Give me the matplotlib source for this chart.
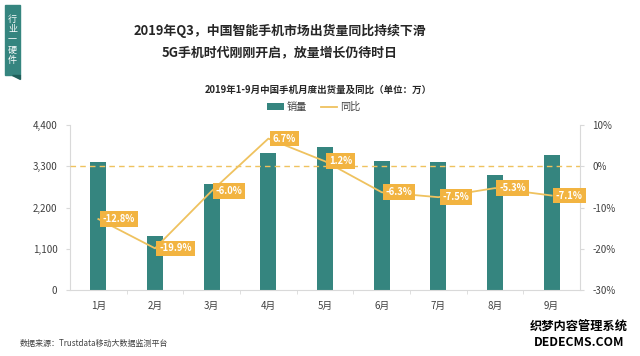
import matplotlib
matplotlib.use('Agg')
import matplotlib.pyplot as plt
from matplotlib.patches import Rectangle, Polygon

plt.rcParams['font.family'] = ['Noto Sans CJK SC', 'DejaVu Sans']

months = ['1月', '2月', '3月', '4月', '5月', '6月', '7月', '8月', '9月']
sales = [3405, 1440, 2830, 3645, 3820, 3430, 3415, 3070, 3610]
yoy = [-12.8, -19.9, -6.0, 6.7, 1.2, -6.3, -7.5, -5.3, -7.1]

left_ticks = [0, 1100, 2200, 3300, 4400]
right_ticks = [-30, -20, -10, 0, 10]

TEAL = '#35857f'
GOLD = '#efc25f'
LABEL_BG = '#f2b441'
GREY = '#d9d9d9'

fig = plt.figure(figsize=(6.4, 3.56), dpi=100)
fig.patch.set_facecolor('white')

# side tag
fig.patches.append(Rectangle((5 / 640, 1 - 75 / 356), 15 / 640, 70 / 356,
                             transform=fig.transFigure, color=TEAL))
fig.patches.append(Polygon([(12 / 640, 1 - 75 / 356), (20 / 640, 1 - 75 / 356),
                            (20 / 640, 1 - 79 / 356)],
                           transform=fig.transFigure, color='#1f5f5a'))
fig.text(12.5 / 640, 1 - 40 / 356, '行\n业\n一\n硬\n件', color='white',
         fontsize=6.5, ha='center', va='center', linespacing=1.15)

# titles
fig.text(280 / 640, 1 - 31 / 356, '2019年Q3，中国智能手机市场出货量同比持续下滑',
         ha='center', va='center', fontsize=9.3, fontweight='bold', color='#262626')
fig.text(280 / 640, 1 - 52 / 356, '5G手机时代刚刚开启，放量增长仍待时日',
         ha='center', va='center', fontsize=9.3, fontweight='bold', color='#262626')
fig.text(318 / 640, 1 - 90 / 356, '2019年1-9月中国手机月度出货量及同比（单位：万）',
         ha='center', va='center', fontsize=6.8, fontweight='bold', color='#262626')

ax = fig.add_axes([70 / 640, 1 - 290 / 356, 510 / 640, 165 / 356])
ax2 = ax.twinx()

x = list(range(len(months)))
bars = ax.bar(x, sales, width=0.28, color=TEAL, label='销量', zorder=2)
ax.set_xlim(-0.5, len(months) - 0.5)
ax.set_ylim(0, 4400)
ax.set_yticks(left_ticks)
ax.set_yticklabels([f'{v:,}' for v in left_ticks])
ax.set_xticks(x)
ax.set_xticklabels(months)
ax.set_xticks([i + 0.5 for i in x[:-1]], minor=True)
ax.tick_params(axis='x', which='major', length=0, pad=8, labelsize=7, colors='#404040')
ax.tick_params(axis='x', which='minor', length=3, color=GREY)
ax.tick_params(axis='y', length=3, color=GREY, labelsize=7, colors='#404040', pad=6)
for s in ['top', 'right']:
    ax.spines[s].set_visible(False)
ax.spines['left'].set_color(GREY)
ax.spines['bottom'].set_color(GREY)

line, = ax2.plot(x, yoy, color=GOLD, lw=1.3, label='同比', zorder=3)
ax2.axhline(0, color=GOLD, lw=1, ls=(0, (4, 3)), zorder=1)
ax2.set_ylim(-30, 10)
ax2.set_yticks(right_ticks)
ax2.set_yticklabels([f'{v}%' for v in right_ticks])
ax2.tick_params(axis='y', length=3, color=GREY, labelsize=7, colors='#404040', pad=6)
for s in ['top', 'left', 'bottom']:
    ax2.spines[s].set_visible(False)
ax2.spines['right'].set_color(GREY)

for xi, v in zip(x, yoy):
    ax2.annotate(f'{v:.1f}%', (xi, v), xytext=(3, 0), textcoords='offset points',
                 ha='left', va='center', fontsize=6.8, fontweight='bold', color='white',
                 bbox=dict(boxstyle='square,pad=0.3', fc=LABEL_BG, ec='none'), zorder=4)

fig.legend(handles=[bars, line], loc='center', bbox_to_anchor=(314 / 640, 1 - 107 / 356),
           ncol=2, frameon=False, fontsize=7.3, handlelength=1.6, handleheight=0.6,
           columnspacing=1.4, handletextpad=0.3, labelcolor='#404040')

fig.text(20 / 640, 1 - 343 / 356, '数据来源：Trustdata移动大数据监测平台',
         ha='left', va='center', fontsize=5.8, color='#404040')

# watermark
fig.text(579 / 640, 1 - 327 / 356, '织梦内容管理系统', ha='center', va='center',
         fontsize=8.8, fontweight='bold', color='black')
fig.text(579 / 640, 1 - 342 / 356, 'DEDECMS.COM', ha='center', va='center',
         fontsize=8.8, fontweight='bold', color='black')

fig.savefig('out.png', dpi=100, facecolor='white')
